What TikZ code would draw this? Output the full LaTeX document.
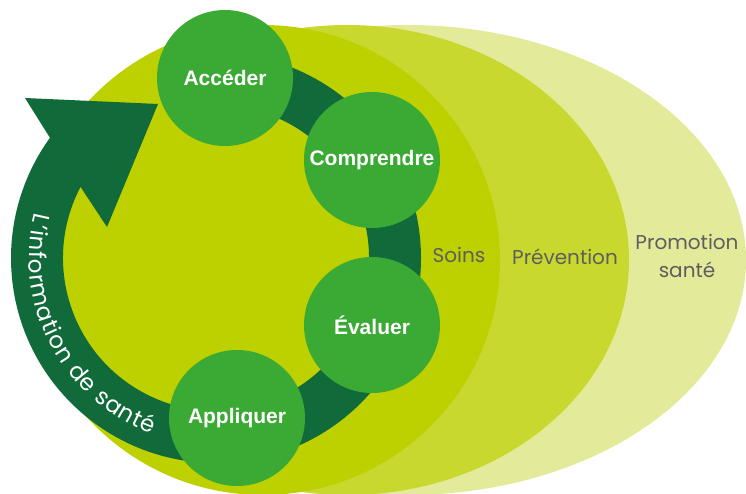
\documentclass[tikz,border=0pt]{standalone}
\usepackage{fontspec}
\setmainfont{Liberation Sans}
\newfontfamily\geo{Poppins}
\usetikzlibrary{decorations.text}
\definecolor{soinsc}{HTML}{BDD000}
\definecolor{prevc}{HTML}{C8D82E}
\definecolor{promoc}{HTML}{E3EB9A}
\definecolor{ringc}{HTML}{106A3A}
\definecolor{stagec}{HTML}{3BAA35}
\definecolor{greytext}{HTML}{5E5E5E}
\begin{document}
\begin{tikzpicture}[x=1pt,y=1pt,
  stage/.style={circle, fill=stagec, minimum size=136pt, inner sep=0pt, text=white, font=\fontsize{21}{24}\selectfont\bfseries},
  zonelabel/.style={text=greytext, font=\geo\fontsize{20}{28}\selectfont, align=center}]
\useasboundingbox (0,0) rectangle (746,493);
\begin{scope}
\clip (0,0) rectangle (746,493);
\fill[promoc] (407,233) ellipse [x radius=339, y radius=235];
\fill[prevc] (347,233) ellipse [x radius=282, y radius=235];
\fill[soinsc] (263,233) ellipse [x radius=237, y radius=235];
\end{scope}
\coordinate (rc) at (216,235);
\coordinate (barbA) at (25,395);
\coordinate (tip) at (158,389);
\coordinate (barbB) at (107,266);
\fill[ringc] ([shift={(rc)}]95:205) arc[start angle=95, end angle=-215.9, radius=205]
  -- (barbA) -- (tip) -- (barbB)
  -- ([shift={(rc)}]-207.7:153) arc[start angle=-207.7, end angle=95, radius=153] -- cycle;
\path[decorate, decoration={text along path, text color=white,
   text={|\geo\fontsize{23}{23}\selectfont|L’information de santé}, text align=fit to path}]
  ([shift={(rc)}]166:187) arc[start angle=166, end angle=250, radius=187];
\node[stage] (acc) at (225,415) {Accéder};
\node[stage] (comp) at (372,333) {Comprendre};
\node[stage] (eval) at (372,168) {Évaluer};
\node[stage] (appl) at (237,75) {Appliquer};
\node[zonelabel] (soins) at (459,238) {Soins};
\node[zonelabel] (prev) at (565,236) {Prévention};
\node[zonelabel] (promo) at (687,237) {Promotion\\santé};
\end{tikzpicture}
\end{document}
